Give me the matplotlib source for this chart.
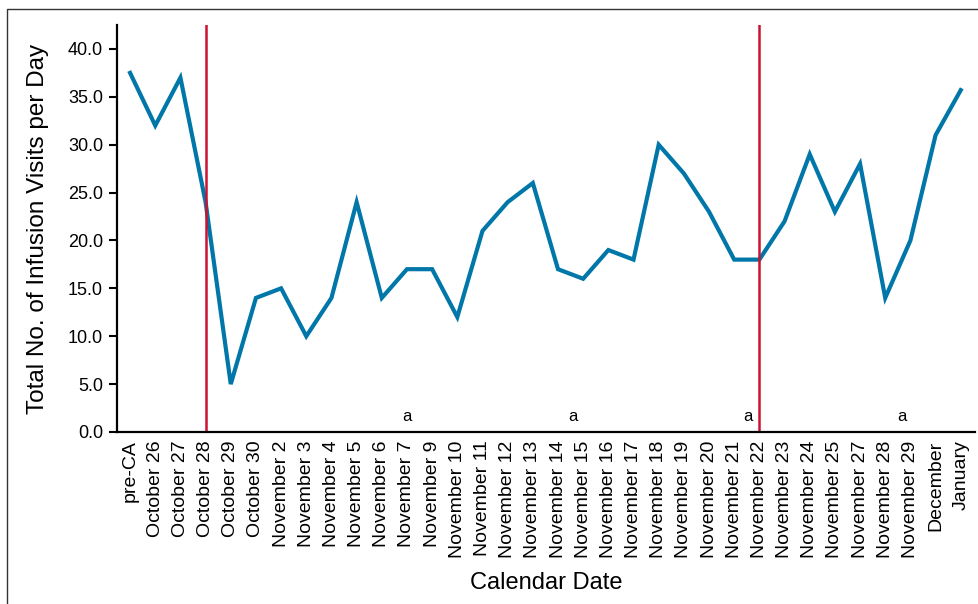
import matplotlib
matplotlib.use("Agg")
import matplotlib.pyplot as plt

dates = ["pre-CA", "October 26", "October 27", "October 28", "October 29",
         "October 30", "November 2", "November 3", "November 4", "November 5",
         "November 6", "November 7", "November 9", "November 10", "November 11",
         "November 12", "November 13", "November 14", "November 15",
         "November 16", "November 17", "November 18", "November 19",
         "November 20", "November 21", "November 22", "November 23",
         "November 24", "November 25", "November 27", "November 28",
         "November 29", "December", "January"]
visits = [37.5, 32, 37, 24, 5, 14, 15, 10, 14, 24, 14, 17, 17, 12, 21, 24, 26,
          17, 16, 19, 18, 30, 27, 23, 18, 18, 22, 29, 23, 28, 14, 20, 31, 35.7]
event_dates = ["October 28", "November 22"]
yticks = [0, 5, 10, 15, 20, 25, 30, 35, 40]

plt.rcParams["font.family"] = ["Liberation Sans", "DejaVu Sans"]

fig = plt.figure(figsize=(9.79, 6.04), dpi=100)
ax = fig.add_axes([0.1195, 0.2848, 0.876, 0.6738])

x = list(range(len(dates)))
ax.plot(x, visits, color="#0077a8", linewidth=3.0, solid_joinstyle="miter")
for d in event_dates:
    ax.axvline(dates.index(d), color="#cc1131", linewidth=1.8)

# footnote markers
for xpos in [11.0, 17.6, 24.55, 30.65]:
    ax.text(xpos, 1.6, "a", ha="center", va="center", fontsize=12)

ax.set_xlim(-0.52, 33.55)
ax.set_ylim(0, 42.5)
ax.set_yticks(yticks)
ax.set_yticklabels([f"{v:.1f}" for v in yticks], fontsize=13)
ax.set_xticks(x)
ax.set_xticklabels(dates, rotation=90, fontsize=14)
ax.tick_params(axis="x", length=0, pad=6)
ax.tick_params(axis="y", length=6, width=1.5, pad=4)

for s in ["top", "right"]:
    ax.spines[s].set_visible(False)
for s in ["left", "bottom"]:
    ax.spines[s].set_linewidth(1.6)

ax.set_ylabel("Total No. of Infusion Visits per Day", fontsize=17.5)
ax.yaxis.set_label_coords(-0.079, 0.5)
ax.set_xlabel("Calendar Date", fontsize=17, labelpad=10)

# thin frame around the figure
fig.add_artist(plt.Rectangle((0.007, -0.01), 1.2, 0.995, transform=fig.transFigure,
                             fill=False, edgecolor="#333333", linewidth=1.0))

fig.savefig("out.png", dpi=100)
